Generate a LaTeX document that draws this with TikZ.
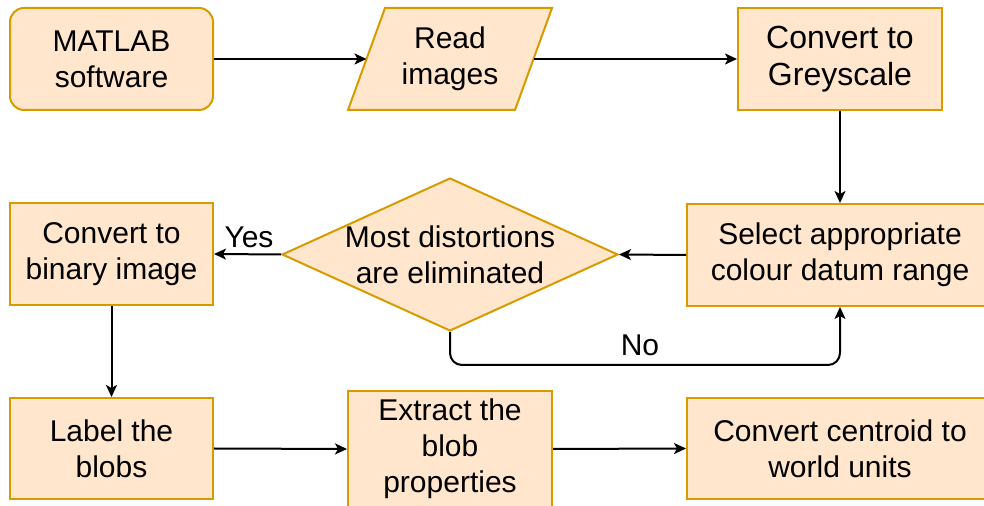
\documentclass[tikz,border=0pt]{standalone}
\usepackage{fontspec}
\setmainfont{Liberation Sans}
\usetikzlibrary{shapes.geometric,arrows.meta}
\definecolor{boxfill}{HTML}{FFE6CC}
\definecolor{boxdraw}{HTML}{D79B00}
\tikzset{
  base/.style={draw=boxdraw, fill=boxfill, line width=1pt, align=center, inner sep=0pt,
    font=\fontsize{15pt}{18pt}\selectfont},
  procbox/.style={base, rectangle},
  roundbox/.style={base, rectangle, rounded corners=7pt},
  decision/.style={base, diamond},
  txt/.style={align=center, inner sep=0pt, font=\fontsize{15pt}{18pt}\selectfont},
  conn/.style={line width=1pt, -{Stealth[length=6pt,width=5.5pt,inset=1.5pt]}},
}
\begin{document}
\begin{tikzpicture}[x=0.5pt, y=-0.5pt]
\useasboundingbox (0,0) rectangle (984,506);
% top row
\node[roundbox, minimum width=101.5pt, minimum height=51pt] (matlab) at (111.5,59) {MATLAB\\software};
\draw[base] (385,8) -- (552,8) -- (515,110) -- (348,110) -- cycle;
\node[txt] (read) at (450,59) {Read\\images};
\coordinate (readL) at (366.5,59);
\coordinate (readR) at (533.5,59);
\node[procbox, minimum width=102pt, minimum height=51pt, font=\fontsize{16pt}{18.5pt}\selectfont] (grey) at (840,59) {Convert to\\Greyscale};
% middle row
\node[procbox, minimum width=153pt, minimum height=51pt] (select) at (840,255) {Select appropriate\\colour datum range};
\node[decision, minimum width=168pt, minimum height=76.5pt,
  label={[txt]center:Most distortions\\are eliminated}] (dia) at (450,254.5) {};
\node[procbox, minimum width=101.5pt, minimum height=51pt] (binary) at (111.5,254) {Convert to\\binary image};
% bottom row
\node[procbox, minimum width=101.5pt, minimum height=50.5pt] (label) at (111.5,448.5) {Label the\\blobs};
\node[procbox, minimum width=102pt, minimum height=58pt] (extract) at (450,449) {Extract the\\blob\\properties};
\node[procbox, minimum width=153pt, minimum height=50.5pt] (centroid) at (840,448.5) {Convert centroid to\\world units};
% connectors
\draw[conn] (matlab.east |- readL) -- (readL);
\draw[conn] (readR) -- (grey.west);
\draw[conn] (grey.south) -- (select.north);
\draw[conn] (select.west) -- (dia.east);
\draw[conn] (dia.west) -- (binary.east);
\node[txt, anchor=center] (yes) at (249,237) {Yes};
\coordinate (nob) at (0,365);
\draw[conn, rounded corners=6pt] (dia.south) -- (dia.south |- nob) -- (select.south |- nob) -- (select.south);
\node[txt] (no) at (640,345) {No};
\draw[conn] (binary.south) -- (label.north);
\draw[conn] (label.east) -- (extract.west);
\draw[conn] (extract.east) -- (centroid.west);
\end{tikzpicture}
\end{document}
